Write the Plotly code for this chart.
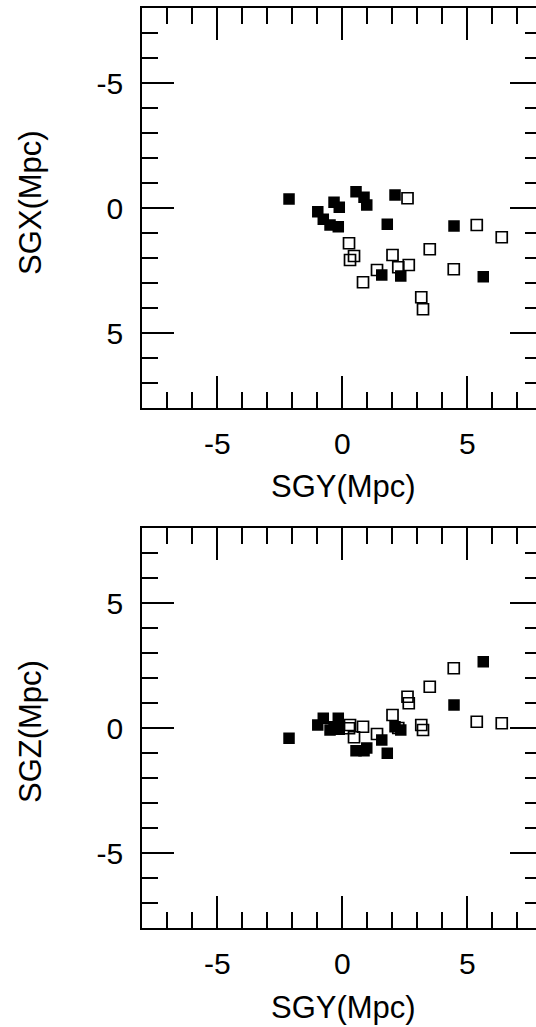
import plotly.graph_objects as go

# ---- data (Mpc) ----
# solid squares
filled_sgy = [-2.13, -0.98, -0.76, -0.49, -0.33, -0.16, -0.12, 0.55, 0.87, 0.98,
              1.58, 1.80, 2.11, 2.34, 4.47, 5.64]
filled_sgx = [-0.36, 0.15, 0.45, 0.68, -0.23, 0.75, -0.03, -0.65, -0.43, -0.12,
              2.68, 0.65, -0.52, 2.72, 0.72, 2.75]
filled_sgz = [-0.41, 0.12, 0.39, -0.08, 0.05, 0.39, -0.05, -0.91, -0.91, -0.80,
              -0.48, -1.01, 0.05, -0.08, 0.92, 2.65]
# open squares
open_sgy = [0.27, 0.47, 0.31, 0.83, 1.39, 2.01, 2.24, 2.61, 2.66, 3.16, 3.23,
            3.50, 4.46, 5.38, 6.38]
open_sgx = [1.41, 1.92, 2.08, 2.97, 2.48, 1.88, 2.37, -0.39, 2.28, 3.57, 4.05,
            1.65, 2.45, 0.68, 1.17]
open_sgz = [-0.01, -0.37, 0.12, 0.05, -0.24, 0.52, 0.00, 1.25, 0.99, 0.12, -0.08,
            1.65, 2.39, 0.25, 0.19]

tick_vals = [-5, 0, 5]
tick_text = ["-5", "0", "5"]
x_title = "SGY(Mpc)"
y_title_top = "SGX(Mpc)"
y_title_bottom = "SGZ(Mpc)"

W, H = 536, 1027
FONT = "Liberation Sans, Arial, Helvetica, sans-serif"

fig = go.Figure()

filled_marker = dict(symbol="square", size=11.5, color="black", line=dict(width=0))
open_marker = dict(symbol="square-open", size=11, color="black", line=dict(width=1.7))

# top panel: SGX vs SGY
fig.add_trace(go.Scatter(x=open_sgy, y=open_sgx, mode="markers", marker=open_marker,
                         xaxis="x", yaxis="y", showlegend=False))
fig.add_trace(go.Scatter(x=filled_sgy, y=filled_sgx, mode="markers", marker=filled_marker,
                         xaxis="x", yaxis="y", showlegend=False))
# bottom panel: SGZ vs SGY
fig.add_trace(go.Scatter(x=open_sgy, y=open_sgz, mode="markers", marker=open_marker,
                         xaxis="x2", yaxis="y2", showlegend=False))
fig.add_trace(go.Scatter(x=filled_sgy, y=filled_sgz, mode="markers", marker=filled_marker,
                         xaxis="x2", yaxis="y2", showlegend=False))
# invisible copies so the right-hand tick axes get drawn
fig.add_trace(go.Scatter(x=filled_sgy, y=filled_sgx, mode="markers",
                         marker=dict(opacity=0), hoverinfo="skip",
                         xaxis="x", yaxis="y3", showlegend=False))
fig.add_trace(go.Scatter(x=filled_sgy, y=filled_sgz, mode="markers",
                         marker=dict(opacity=0), hoverinfo="skip",
                         xaxis="x2", yaxis="y4", showlegend=False))

left_px = 142.3
xdom = [left_px / W, 1.0]
top_dom = [1 - 408 / H, 1 - 8 / H]
bot_dom = [1 - 928 / H, 1 - 528 / H]

tickfont = dict(family=FONT, size=30, color="black")

def xaxis(anchor):
    return dict(domain=xdom, anchor=anchor, range=[-8, 7.75], tickmode="array",
                tickvals=tick_vals, ticktext=tick_text, ticks="inside", ticklen=32,
                tickwidth=1.5, tickcolor="black", showline=True, linecolor="black",
                linewidth=2, mirror="ticks", showgrid=False, zeroline=False,
                tickfont=tickfont, ticklabelstandoff=8,
                minor=dict(ticks="inside", ticklen=16, tickwidth=1.5, tickcolor="black",
                           dtick=1, tick0=0, showgrid=False))

def yaxis(anchor, dom, rng):
    return dict(domain=dom, anchor=anchor, range=rng, tickmode="array",
                tickvals=tick_vals, ticktext=tick_text, ticks="inside", ticklen=32,
                tickwidth=1.5, tickcolor="black", showline=True, linecolor="black",
                linewidth=2, mirror=False, showgrid=False, zeroline=False,
                tickfont=tickfont, ticklabelstandoff=11,
                minor=dict(ticks="inside", ticklen=16, tickwidth=1.5, tickcolor="black",
                           dtick=1, tick0=0, showgrid=False))

def rightaxis(overlay, anchor, rng):
    return dict(overlaying=overlay, anchor=anchor, side="right", range=rng,
                tickmode="array", tickvals=tick_vals, ticktext=tick_text,
                showticklabels=False, ticks="inside", ticklen=26, tickwidth=1.5,
                tickcolor="black", showline=False, showgrid=False, zeroline=False,
                minor=dict(ticks="inside", ticklen=11, tickwidth=1.5, tickcolor="black",
                           dtick=1, tick0=0, showgrid=False))

fig.update_layout(
    width=W, height=H,
    margin=dict(l=0, r=0, t=0, b=0, autoexpand=False),
    paper_bgcolor="white", plot_bgcolor="white",
    font=dict(family=FONT, color="black"),
    xaxis=xaxis("y"),
    yaxis=yaxis("x", top_dom, [8, -8]),
    xaxis2=xaxis("y2"),
    yaxis2=yaxis("x2", bot_dom, [-8, 8]),
    yaxis3=rightaxis("y", "x", [8, -8]),
    yaxis4=rightaxis("y2", "x2", [-8, 8]),
    showlegend=False,
)

title_font = dict(family=FONT, size=31, color="black")
fig.add_annotation(text=x_title, xref="paper", yref="paper", x=343 / W, y=1 - 486 / H,
                   xanchor="center", yanchor="middle", showarrow=False, font=title_font)
fig.add_annotation(text=x_title, xref="paper", yref="paper", x=343 / W, y=1 - 1007 / H,
                   xanchor="center", yanchor="middle", showarrow=False, font=title_font)
fig.add_annotation(text=y_title_top, xref="paper", yref="paper", x=30 / W, y=1 - 203 / H,
                   xanchor="center", yanchor="middle", textangle=-90, showarrow=False,
                   font=title_font)
fig.add_annotation(text=y_title_bottom, xref="paper", yref="paper", x=30 / W, y=1 - 732 / H,
                   xanchor="center", yanchor="middle", textangle=-90, showarrow=False,
                   font=title_font)

fig.write_html("out.html")
